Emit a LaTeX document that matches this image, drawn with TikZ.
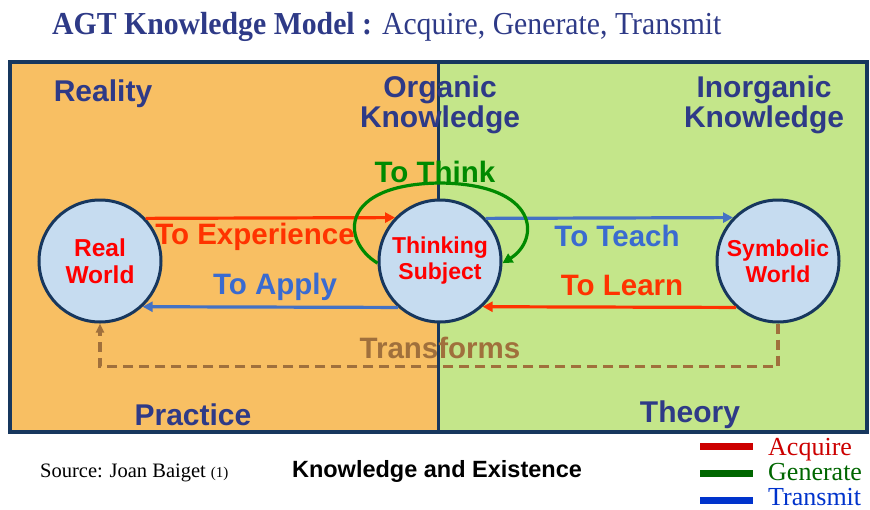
\documentclass[tikz,border=0pt]{standalone}
\usepackage{fontspec}
\setmainfont{Liberation Serif}
\setsansfont{Liberation Sans}
\usetikzlibrary{arrows.meta}
\definecolor{navy}{HTML}{17375E}
\definecolor{titlenavy}{HTML}{2E3A87}
\definecolor{orangebg}{HTML}{F8BF63}
\definecolor{greenbg}{HTML}{C4E68A}
\definecolor{circfill}{HTML}{C6DCF0}
\definecolor{redarrow}{HTML}{FF3300}
\definecolor{bluearrow}{HTML}{4472C4}
\definecolor{bluetext}{HTML}{3A6BD0}
\definecolor{greenarrow}{HTML}{008A00}
\definecolor{brownline}{HTML}{A0703C}
\definecolor{legred}{HTML}{CC0000}
\definecolor{leggreen}{HTML}{006600}
\definecolor{legblue}{HTML}{0033CC}
\tikzset{
  bubble/.style={circle, minimum size=122pt, inner sep=0pt, draw=navy, line width=3pt, fill=circfill, align=center, text=red, font=\sffamily\bfseries\fontsize{23}{26}\selectfont},
  arrowlabel/.style={font=\sffamily\bfseries\fontsize{29.5}{31}\selectfont},
  framelabel/.style={font=\sffamily\bfseries\fontsize{30}{31}\selectfont, text=titlenavy, align=center},
  flow/.style={line width=3.2pt, -{Triangle[length=10pt,width=10pt]}},
  legline/.style={line width=7pt},
  legtext/.style={font=\fontsize{26}{28}\selectfont, anchor=base west, inner sep=0pt}
}
\begin{document}
\begin{tikzpicture}[x=1pt,y=-1pt]
\useasboundingbox (0,0) rectangle (870,509);
% background panels
\fill[orangebg] (10,62) rectangle (438,432);
\fill[greenbg] (438,62) rectangle (867,432);
\draw[navy, line width=3.5pt] (10,62) rectangle (867,432);
\draw[navy, line width=3pt] (438,62) -- (438,432);
% title
\node[anchor=base west, inner sep=0pt, text=titlenavy, font=\fontsize{32}{33}\selectfont] (title) at (52,34) {\scalebox{0.93}[1]{\textbf{AGT Knowledge Model :} Acquire, Generate, Transmit}};
% frame labels
\node[framelabel] (reality) at (103,94) {Reality};
\node[framelabel] (organic) at (440,105) {Organic\\[-1pt]Knowledge};
\node[framelabel] (inorganic) at (764,105) {Inorganic\\[-1pt]Knowledge};
\node[framelabel] (practice) at (193,415) {Practice};
\node[framelabel] (theory) at (690,415) {Theory};
% circles
\node[bubble, font=\sffamily\bfseries\fontsize{24.5}{27}\selectfont] (rw) at (100,261) {Real\\World};
\node[bubble] (ts) at (440,261) {Thinking\\Subject};
\node[bubble] (sw) at (778,261) {Symbolic\\World};
% flows
\draw[flow, redarrow] (rw.43.5) -- (ts.136.5);
\draw[flow, bluearrow] (ts.43.5) -- (sw.136.5);
\draw[flow, bluearrow] (ts.-132.5) -- (rw.-47.5);
\draw[flow, redarrow] (sw.-132.5) -- (ts.-47.5);
\draw[flow, greenarrow] (ts.182) .. controls (340,240) and (340,184) .. (440,183) .. controls (540,184) and (540,240) .. (ts.-2);
\draw[brownline, line width=3.2pt, dash pattern=on 10pt off 6pt, -{Triangle[length=9pt,width=8pt]}] (sw.south) -- ++(0,43) -| (rw.south);
% arrow labels
\node[arrowlabel, text=redarrow] (lexp) at (255,237) {To Experience};
\node[arrowlabel, text=bluetext] (lapp) at (275,287) {To Apply};
\node[arrowlabel, text=bluetext] (lteach) at (617,236) {To Teach};
\node[arrowlabel, text=redarrow] (llearn) at (622,285) {To Learn};
\node[arrowlabel, text=greenarrow] (lthink) at (435,172) {To Think};
\node[arrowlabel, text=brownline] (ltrans) at (440,348) {Transforms};
% bottom texts
\node[anchor=base west, inner sep=0pt, font=\fontsize{20.5}{22}\selectfont] (source) at (40,477) {Source: Joan Baiget {\fontsize{15}{16}\selectfont (1)}};
\node[anchor=base, inner sep=0pt, font=\sffamily\bfseries\fontsize{23.5}{25}\selectfont] (kae) at (437,477) {Knowledge and Existence};
% legend
\coordinate (l1a) at (700,446); \coordinate (l1b) at (753,446);
\coordinate (l2a) at (700,473); \coordinate (l2b) at (753,473);
\coordinate (l3a) at (700,500); \coordinate (l3b) at (753,500);
\draw[legline, legred] (l1a) -- (l1b);
\draw[legline, leggreen] (l2a) -- (l2b);
\draw[legline, legblue] (l3a) -- (l3b);
\node[legtext, text=legred] (acq) at (768,455) {Acquire};
\node[legtext, text=leggreen] (gen) at (768,480) {Generate};
\node[legtext, text=legblue] (tra) at (768,505) {Transmit};
\end{tikzpicture}
\end{document}
